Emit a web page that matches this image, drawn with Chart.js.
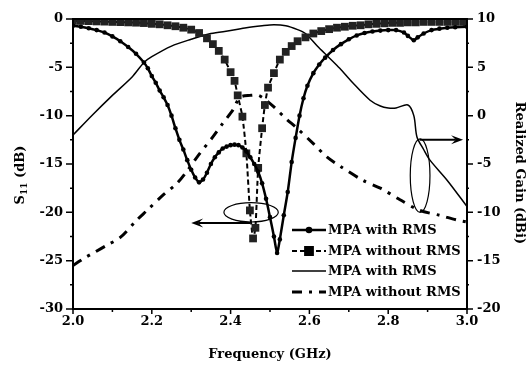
<!DOCTYPE html>
<html>
<head>
<meta charset="utf-8">
<script src="https://cdn.jsdelivr.net/npm/chart.js@4.4.0/dist/chart.umd.min.js"></script>
<style>
  html, body { margin: 0; padding: 0; background: #fff; }
  #wrap { width: 526px; height: 365px; }
</style>
</head>
<body>
<div id="wrap"><canvas id="chart" width="526" height="365"></canvas></div>
<script>
// S11, MPA with RMS (solid line with dots)
const freqS11With = [2.00, 2.02, 2.04, 2.06, 2.08, 2.10, 2.12, 2.14, 2.16, 2.18, 2.19, 2.20, 2.21, 2.22,
    2.23, 2.24, 2.25, 2.26, 2.27, 2.28, 2.29, 2.30, 2.31, 2.32, 2.33, 2.34, 2.35, 2.36, 2.37, 2.38,
    2.39, 2.40, 2.41, 2.42, 2.43, 2.44, 2.45, 2.46, 2.47, 2.48, 2.49, 2.50, 2.51, 2.518, 2.525,
    2.535, 2.545, 2.555, 2.565, 2.575, 2.585, 2.595, 2.61, 2.625, 2.64, 2.66, 2.68, 2.70, 2.72,
    2.74, 2.76, 2.78, 2.80, 2.82, 2.84, 2.85, 2.865, 2.875, 2.89, 2.91, 2.93, 2.95, 2.97, 3.00];
const s11With = [-0.7, -0.8, -0.95, -1.15, -1.4, -1.8, -2.3, -2.9, -3.6, -4.5, -5.1, -5.9, -6.6, -7.4,
    -8.1, -8.9, -10.0, -11.3, -12.5, -13.5, -14.6, -15.6, -16.4, -16.9, -16.6, -15.9, -15.0, -14.3, -13.8, -13.4,
    -13.2, -13.05, -13.0, -13.05, -13.3, -13.7, -14.3, -15.0, -15.8, -17.0, -18.6, -20.5, -22.5, -24.2, -22.8,
    -20.3, -17.9, -14.8, -12.3, -10.0, -8.2, -6.9, -5.6, -4.7, -4.0, -3.2, -2.6, -2.1, -1.7,
    -1.45, -1.3, -1.2, -1.15, -1.15, -1.4, -1.75, -2.2, -1.9, -1.5, -1.15, -1.0, -0.9, -0.85, -0.8];

// S11, MPA without RMS (dashed line with squares)
const freqS11Without = [2.00, 2.02, 2.04, 2.06, 2.08, 2.10, 2.12, 2.14, 2.16, 2.18, 2.20, 2.22, 2.24,
    2.26, 2.28, 2.30, 2.32, 2.34, 2.355, 2.37, 2.385, 2.40, 2.41, 2.418, 2.43, 2.44, 2.449, 2.457,
    2.463, 2.47, 2.48, 2.487, 2.495, 2.51, 2.525, 2.54, 2.555, 2.57, 2.59, 2.61, 2.63, 2.65, 2.67,
    2.69, 2.71, 2.73, 2.75, 2.77, 2.79, 2.81, 2.83, 2.85, 2.87, 2.89, 2.91, 2.93, 2.95, 2.97, 2.99, 3.00];
const s11Without = [-0.2, -0.2, -0.22, -0.25, -0.27, -0.3, -0.32, -0.35, -0.38, -0.42, -0.5, -0.55, -0.65,
    -0.75, -0.9, -1.1, -1.45, -2.0, -2.6, -3.3, -4.2, -5.5, -6.4, -7.9, -10.1, -13.9, -19.8, -22.7,
    -21.6, -15.4, -11.3, -8.9, -7.1, -5.6, -4.2, -3.4, -2.8, -2.3, -1.9, -1.5, -1.25, -1.05, -0.9,
    -0.8, -0.7, -0.65, -0.55, -0.5, -0.45, -0.4, -0.4, -0.35, -0.35, -0.3, -0.3, -0.3, -0.3, -0.3, -0.3, -0.3];

// Realized gain, MPA with RMS (thin solid line)
const freqGainWith = [2.00, 2.05, 2.10, 2.15, 2.18, 2.20, 2.25, 2.30, 2.35, 2.40, 2.44, 2.48, 2.51, 2.54,
    2.57, 2.59, 2.62, 2.65, 2.677, 2.71, 2.754, 2.78, 2.80, 2.82, 2.85, 2.865, 2.873, 2.89, 2.906,
    2.95, 3.00];
const gainWith = [-2.0, 0.1, 2.1, 4.0, 5.5, 6.1, 7.2, 7.9, 8.5, 8.8, 9.1, 9.3, 9.4, 9.3,
    8.9, 8.5, 7.2, 6.0, 4.9, 3.4, 1.6, 1.0, 0.8, 0.8, 1.1, 0.0, -2.2, -3.5, -4.6,
    -6.7, -9.4];

// Realized gain, MPA without RMS (dash-dot line)
const freqGainWithout = [2.00, 2.03, 2.056, 2.086, 2.12, 2.162, 2.188, 2.229, 2.264, 2.29, 2.32, 2.355,
    2.38, 2.406, 2.424, 2.45, 2.47, 2.49, 2.51, 2.543, 2.566, 2.61, 2.645, 2.677, 2.736, 2.78, 2.83,
    2.88, 2.93, 2.975, 3.00];
const gainWithout = [-15.5, -14.7, -14.1, -13.4, -12.6, -10.8, -9.8, -8.2, -7.0, -5.7, -4.0, -2.2,
    -0.8, 0.6, 1.9, 2.1, 2.1, 1.6, 0.9, -0.4, -1.2, -2.9, -4.3, -5.2, -6.7, -7.5, -8.7,
    -9.8, -10.3, -10.8, -11.0];

// tick labels
const freqTickLabels = ["2.0", "2.2", "2.4", "2.6", "2.8", "3.0"];
const s11TickLabels = ["0", "-5", "-10", "-15", "-20", "-25", "-30"];
const gainTickLabels = ["10", "5", "0", "-5", "-10", "-15", "-20"];

const legendLabels = ["MPA with RMS", "MPA without RMS", "MPA with RMS", "MPA without RMS"];

const FONT = '"DejaVu Serif", "Liberation Serif", serif';

function toPoints(xs, ys) {
    return xs.map((x, i) => ({ x: x, y: ys[i] }));
}

// frame, tick marks, axis titles, annotations and legend
const decorations = {
    id: "decorations",
    afterDraw(chart) {
        const ctx = chart.ctx;
        const a = chart.chartArea;
        const sx = chart.scales.x, yL = chart.scales.yL, yR = chart.scales.yR;
        ctx.save();
        ctx.strokeStyle = "#000";
        ctx.fillStyle = "#000";

        // frame
        ctx.lineWidth = 2;
        ctx.strokeRect(a.left, a.top, a.right - a.left, a.bottom - a.top);

        // tick marks
        ctx.lineWidth = 1.5;
        ctx.beginPath();
        for (let i = 0; i <= 10; i++) {
            const px = sx.getPixelForValue(2 + i / 10);
            const len = i % 2 ? 3 : 5;
            ctx.moveTo(px, a.bottom);
            ctx.lineTo(px, a.bottom + len);
        }
        for (let i = 0; i <= 12; i++) {
            const len = i % 2 ? 3 : 7;
            const pl = yL.getPixelForValue(-30 + i * 2.5);
            ctx.moveTo(a.left, pl);
            ctx.lineTo(a.left - len, pl);
            const pr = yR.getPixelForValue(-20 + i * 2.5);
            ctx.moveTo(a.right, pr);
            ctx.lineTo(a.right + len - 1, pr);
        }
        ctx.stroke();

        // axis titles
        ctx.font = "bold 13px " + FONT;
        ctx.textAlign = "center";
        ctx.textBaseline = "middle";
        ctx.fillText("Frequency (GHz)", (a.left + a.right) / 2, 355);

        ctx.save();
        ctx.translate(519, 173);
        ctx.rotate(Math.PI / 2);
        ctx.fillText("Realized Gain (dBi)", 0, 0);
        ctx.restore();

        ctx.save();
        ctx.translate(21, 175);
        ctx.rotate(-Math.PI / 2);
        ctx.textAlign = "left";
        ctx.font = "bold 13px " + FONT;
        const wS = ctx.measureText("S").width;
        const rest = " (dB)";
        const wR = ctx.measureText(rest).width;
        ctx.font = "bold 9px " + FONT;
        const wSub = ctx.measureText("11").width;
        let cx = -(wS + wSub + wR) / 2;
        ctx.font = "bold 13px " + FONT;
        ctx.fillText("S", cx, 0);
        ctx.font = "bold 9px " + FONT;
        ctx.fillText("11", cx + wS, 4);
        ctx.font = "bold 13px " + FONT;
        ctx.fillText(rest, cx + wS + wSub, 0);
        ctx.restore();

        // annotation: ellipse + arrow pointing to the S11 axis
        ctx.lineWidth = 1.2;
        ctx.beginPath();
        ctx.ellipse(sx.getPixelForValue(2.452), yL.getPixelForValue(-20.0),
            sx.getPixelForValue(2.452) - sx.getPixelForValue(2.383),
            yL.getPixelForValue(-21.0) - yL.getPixelForValue(-20.0), 0, 0, Math.PI * 2);
        ctx.stroke();
        drawArrow(ctx, sx.getPixelForValue(2.45), yL.getPixelForValue(-21.1),
            sx.getPixelForValue(2.30), yL.getPixelForValue(-21.1));

        // annotation: ellipse + arrow pointing to the gain axis
        ctx.lineWidth = 1.2;
        ctx.beginPath();
        ctx.ellipse(sx.getPixelForValue(2.881), yR.getPixelForValue(-6.2),
            sx.getPixelForValue(2.906) - sx.getPixelForValue(2.881),
            yR.getPixelForValue(-10.0) - yR.getPixelForValue(-6.2), 0, 0, Math.PI * 2);
        ctx.stroke();
        drawArrow(ctx, sx.getPixelForValue(2.88), yR.getPixelForValue(-2.5),
            sx.getPixelForValue(2.99), yR.getPixelForValue(-2.5));

        // legend
        const ds = chart.data.datasets;
        const rows = [230, 251, 271, 292];
        const x0 = 292, x1 = 326;
        ctx.font = "bold 13px " + FONT;
        ctx.textAlign = "left";
        ctx.textBaseline = "middle";
        for (let i = 0; i < ds.length; i++) {
            const d = ds[i];
            const y = rows[i];
            ctx.save();
            ctx.strokeStyle = "#000";
            ctx.lineWidth = d.borderWidth;
            ctx.setLineDash(d.borderDash || []);
            ctx.beginPath();
            ctx.moveTo(x0, y);
            ctx.lineTo(x1, y);
            ctx.stroke();
            ctx.restore();
            if (d.pointRadius > 0) {
                Chart.helpers.drawPoint(ctx, { pointStyle: d.pointStyle, radius: d.pointRadius, borderWidth: 1 },
                    (x0 + x1) / 2, y);
                ctx.fill();
            }
            ctx.fillText(legendLabels[i], x1 + 2, y + 1);
        }
        ctx.restore();
    }
};

function drawArrow(ctx, x1, y1, x2, y2) {
    const ang = Math.atan2(y2 - y1, x2 - x1);
    const hl = 12, hw = 4.5;
    ctx.lineWidth = 2;
    ctx.beginPath();
    ctx.moveTo(x1, y1);
    ctx.lineTo(x2 - Math.cos(ang) * hl * 0.6, y2 - Math.sin(ang) * hl * 0.6);
    ctx.stroke();
    ctx.beginPath();
    ctx.moveTo(x2, y2);
    ctx.lineTo(x2 - Math.cos(ang) * hl - Math.sin(ang) * hw, y2 - Math.sin(ang) * hl + Math.cos(ang) * hw);
    ctx.lineTo(x2 - Math.cos(ang) * hl * 0.6, y2 - Math.sin(ang) * hl * 0.6);
    ctx.lineTo(x2 - Math.cos(ang) * hl + Math.sin(ang) * hw, y2 - Math.sin(ang) * hl - Math.cos(ang) * hw);
    ctx.closePath();
    ctx.fill();
}

const tickFont = { family: FONT, size: 13, weight: "bold" };

new Chart(document.getElementById("chart"), {
    type: "line",
    data: {
        datasets: [
            {
                label: legendLabels[0],
                data: toPoints(freqS11With, s11With),
                yAxisID: "yL",
                borderColor: "#000",
                backgroundColor: "#000",
                borderWidth: 2.5,
                pointStyle: "circle",
                pointRadius: 2.3,
                pointBorderWidth: 0,
                tension: 0.2,
                order: 1
            },
            {
                label: legendLabels[1],
                data: toPoints(freqS11Without, s11Without),
                yAxisID: "yL",
                borderColor: "#000",
                backgroundColor: "#222",
                borderWidth: 2,
                borderDash: [5, 3],
                pointStyle: "rect",
                pointRadius: 5.5,
                pointBorderWidth: 0,
                tension: 0.2,
                order: 2
            },
            {
                label: legendLabels[2],
                data: toPoints(freqGainWith, gainWith),
                yAxisID: "yR",
                borderColor: "#000",
                borderWidth: 1.5,
                pointRadius: 0,
                tension: 0.3,
                order: 3
            },
            {
                label: legendLabels[3],
                data: toPoints(freqGainWithout, gainWithout),
                yAxisID: "yR",
                borderColor: "#000",
                borderWidth: 3,
                borderDash: [10, 7, 3, 7],
                pointRadius: 0,
                tension: 0.3,
                order: 4
            }
        ]
    },
    options: {
        responsive: false,
        animation: false,
        layout: { padding: { top: 19, left: 0, right: 0, bottom: 0 } },
        plugins: { legend: { display: false }, tooltip: { enabled: false } },
        scales: {
            x: {
                type: "linear",
                min: 2.0,
                max: 3.0,
                grid: { display: true, drawOnChartArea: false, drawTicks: false },
                border: { display: true, color: "#000", width: 2 },
                ticks: {
                    stepSize: 0.2,
                    padding: 5,
                    color: "#000",
                    font: tickFont,
                    maxRotation: 0,
                    callback: (v) => freqTickLabels.find((t) => Math.abs(parseFloat(t) - v) < 1e-6) || ""
                },
                afterFit: (s) => { s.height = 56; }
            },
            yL: {
                type: "linear",
                position: "left",
                min: -30,
                max: 0,
                grid: { display: true, drawOnChartArea: false, drawTicks: false },
                border: { display: true, color: "#000", width: 2 },
                ticks: {
                    stepSize: 5,
                    padding: 10,
                    color: "#000",
                    font: tickFont,
                    callback: (v) => s11TickLabels.find((t) => parseFloat(t) === v) || ""
                },
                afterFit: (s) => { s.width = 73; }
            },
            yR: {
                type: "linear",
                position: "right",
                min: -20,
                max: 10,
                grid: { display: true, drawOnChartArea: false, drawTicks: false },
                border: { display: true, color: "#000", width: 2 },
                ticks: {
                    stepSize: 5,
                    padding: 10,
                    color: "#000",
                    font: tickFont,
                    callback: (v) => gainTickLabels.find((t) => parseFloat(t) === v) || ""
                },
                afterFit: (s) => { s.width = 59; }
            }
        }
    },
    plugins: [decorations]
});
</script>
</body>
</html>
